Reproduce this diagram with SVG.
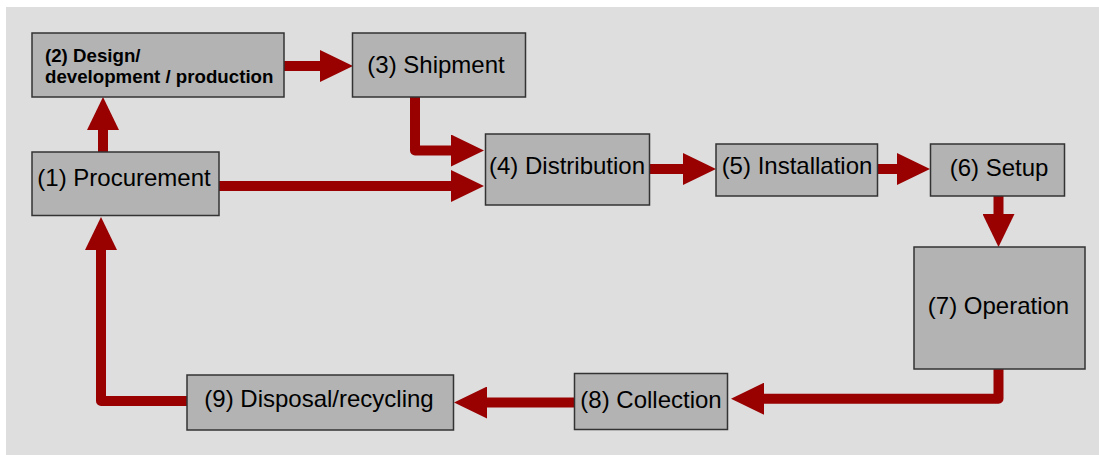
<svg xmlns="http://www.w3.org/2000/svg" width="1099" height="455" viewBox="0 0 1099 455">
<style>
.box{fill:#b3b3b3;stroke:#333333;stroke-width:1.5}
.lbl{font-family:"Liberation Sans",Arial,sans-serif;font-size:24px;fill:#000;text-anchor:middle}
.bold{font-family:"Liberation Sans",Arial,sans-serif;font-size:18.7px;font-weight:bold;fill:#000}
.arr{fill:none;stroke:#990000;stroke-width:10;stroke-linejoin:round;marker-end:url(#head)}
</style>
<defs>
<marker id="head" markerUnits="userSpaceOnUse" markerWidth="33" markerHeight="32" viewBox="0 0 33 32" refX="1" refY="16" orient="auto">
<path d="M0,0 L33,16 L0,32 z" fill="#990000"/>
</marker>
</defs>
<rect x="6" y="7" width="1093" height="448" fill="#dedede"/>
<g id="connectors">
<path class="arr" d="M103,152 L103,129"/>
<path class="arr" d="M284,66 L321,66"/>
<path class="arr" d="M415,97 L415,150.5 L452,150.5"/>
<path class="arr" d="M219,186 L452,186"/>
<path class="arr" d="M649,169 L684,169"/>
<path class="arr" d="M877,169 L898,169"/>
<path class="arr" d="M998.5,196 L998.5,215"/>
<path class="arr" d="M998.5,369 L998.5,398.7 L763,398.7"/>
<path class="arr" d="M574,402.5 L486,402.5"/>
<path class="arr" d="M187,401 L101,401 L101,249"/>
</g>
<g id="n1"><rect class="box" x="32" y="152" width="187" height="63.5"/><text class="lbl" x="124" y="186">(1) Procurement</text></g>
<g id="n2"><rect class="box" x="32" y="33" width="252" height="64"/><text class="bold" x="45" y="62">(2) Design/</text><text class="bold" x="45" y="83">development / production</text></g>
<g id="n3"><rect class="box" x="352.5" y="33" width="173" height="64"/><text class="lbl" x="436" y="72.5">(3) Shipment</text></g>
<g id="n4"><rect class="box" x="485.5" y="134" width="164" height="71"/><text class="lbl" x="567" y="174">(4) Distribution</text></g>
<g id="n5"><rect class="box" x="716" y="144" width="161.5" height="52"/><text class="lbl" x="797" y="174">(5) Installation</text></g>
<g id="n6"><rect class="box" x="930.5" y="144" width="134" height="52"/><text class="lbl" x="999" y="176">(6) Setup</text></g>
<g id="n7"><rect class="box" x="914" y="247" width="171" height="122"/><text class="lbl" x="998.5" y="314">(7) Operation</text></g>
<g id="n8"><rect class="box" x="574.5" y="373.5" width="153" height="56"/><text class="lbl" x="651" y="408">(8) Collection</text></g>
<g id="n9"><rect class="box" x="187" y="375" width="266.5" height="55"/><text class="lbl" x="319" y="407">(9) Disposal/recycling</text></g>
</svg>
